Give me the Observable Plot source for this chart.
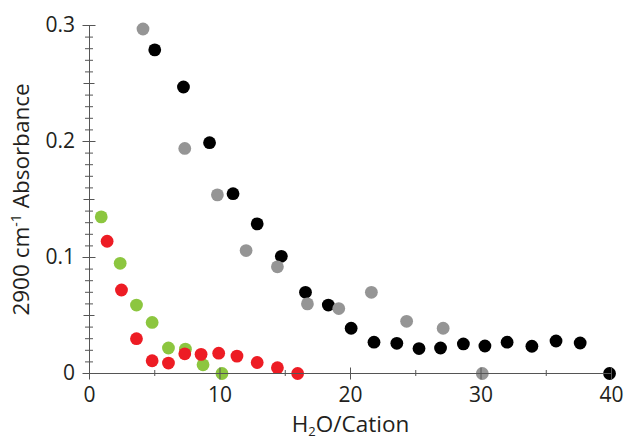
<!DOCTYPE html>
<html><head><meta charset="utf-8">
<script src="https://cdn.jsdelivr.net/npm/d3@7"></script>
<script src="https://cdn.jsdelivr.net/npm/@observablehq/plot@0.6"></script>
<style>body{margin:0;background:#fff}</style>
</head><body><div id="chart"></div>
<script>
// Data
const grayX  = [4.1, 7.3, 9.8, 12.0, 14.4, 16.7, 19.1, 21.6, 24.3, 27.1, 30.1];
const grayY  = [0.297, 0.194, 0.154, 0.106, 0.092, 0.060, 0.056, 0.070, 0.045, 0.039, 0.0];
const blackX = [5.0, 7.2, 9.2, 11.0, 12.85, 14.7, 16.55, 18.3, 20.05, 21.8, 23.55, 25.25, 26.9, 28.65, 30.3, 32.0, 33.9, 35.75, 37.6, 39.85];
const blackY = [0.279, 0.247, 0.199, 0.155, 0.129, 0.101, 0.070, 0.059, 0.039, 0.027, 0.026, 0.0215, 0.022, 0.0255, 0.0237, 0.027, 0.0235, 0.028, 0.0263, 0.0];
const greenX = [0.9, 2.35, 3.6, 4.8, 6.05, 7.35, 8.7, 10.15];
const greenY = [0.135, 0.095, 0.059, 0.044, 0.022, 0.021, 0.0075, 0.0];
const redX   = [1.35, 2.45, 3.6, 4.8, 6.05, 7.3, 8.55, 9.9, 11.3, 12.85, 14.4, 15.95];
const redY   = [0.114, 0.072, 0.030, 0.011, 0.009, 0.017, 0.0165, 0.0175, 0.015, 0.0095, 0.005, 0.0];

const xTicks = [0, 10, 20, 30, 40];
const xTickLabels = ["0", "10", "20", "30", "40"];
const xMinorTicks = [5, 15, 25, 35];
const yTicks = [0, 0.1, 0.2, 0.3];
const yTickLabels = ["0", "0.1", "0.2", "0.3"];
const yMidTicks = [0.05, 0.15, 0.25];
const yMinorTicks = [0.01,0.02,0.03,0.04,0.06,0.07,0.08,0.09,0.11,0.12,0.13,0.14,0.16,0.17,0.18,0.19,0.21,0.22,0.23,0.24,0.26,0.27,0.28,0.29];
const xTitle = "H2O/Cation";
const yTitle = "2900 cm-1 Absorbance";

const axisColor = "#555";
const R = 6.4;

const plot = Plot.plot({
  width: 628, height: 439,
  marginLeft: 89, marginRight: 17, marginTop: 25, marginBottom: 66,
  style: {fontFamily: "'Open Sans', sans-serif", fontSize: "21px", color: "#231f20", background: "#fff"},
  x: {domain: [0, 40]},
  y: {domain: [0, 0.3]},
  marks: [
    Plot.dot(greenX, {x: greenX, y: greenY, r: R, fill: "#8cc63f"}),
    Plot.dot(redX, {x: redX, y: redY, r: R, fill: "#ed1c24"}),
    Plot.dot(blackX, {x: blackX, y: blackY, r: R, fill: "#000"}),
    Plot.dot(grayX, {x: grayX, y: grayY, r: R, fill: "#959595"}),
    Plot.ruleY([0], {stroke: axisColor}),
    Plot.ruleX([0], {stroke: axisColor}),
    Plot.axisY({ticks: yMinorTicks, tickSize: 8, dx: 4, stroke: axisColor, fill: "none", label: null}),
    Plot.axisY({ticks: yMidTicks, tickSize: 11, dx: 5.5, stroke: axisColor, fill: "none", label: null}),
    Plot.axisY({ticks: yTicks, tickSize: 13, dx: 6.5, tickPadding: 8, stroke: axisColor,
      tickFormat: d => yTickLabels[yTicks.indexOf(d)],
      label: yTitle, labelAnchor: "center", labelArrow: "none", labelOffset: 76}),
    Plot.axisX({ticks: xMinorTicks, tickSize: 6, dy: -3, stroke: axisColor, fill: "none", label: null}),
    Plot.axisX({ticks: xTicks, tickSize: 12, dy: -5.5, tickPadding: 7, stroke: axisColor,
      tickFormat: d => xTickLabels[xTicks.indexOf(d)],
      label: xTitle, labelAnchor: "center", labelArrow: "none", labelOffset: 58})
  ]
});
document.getElementById("chart").appendChild(plot);

// Rich text (sub/superscripts) for the axis titles
const svg = d3.select(plot);
const yt = svg.select('g[aria-label="y-axis label"] text');
if (!yt.empty()) {
  yt.text(null).style("font-size", "22.5px");
  yt.append("tspan").text("2900 cm");
  yt.append("tspan").attr("dy", -8).attr("font-size", 14).text("-1");
  yt.append("tspan").attr("dy", 8).text(" Absorbance");
}
const xt = svg.select('g[aria-label="x-axis label"] text');
if (!xt.empty()) {
  xt.text(null).style("font-size", "22.5px");
  xt.append("tspan").text("H");
  xt.append("tspan").attr("dy", 4).attr("font-size", 13).text("2");
  xt.append("tspan").attr("dy", -4).text("O/Cation");
}
</script>
</body></html>
